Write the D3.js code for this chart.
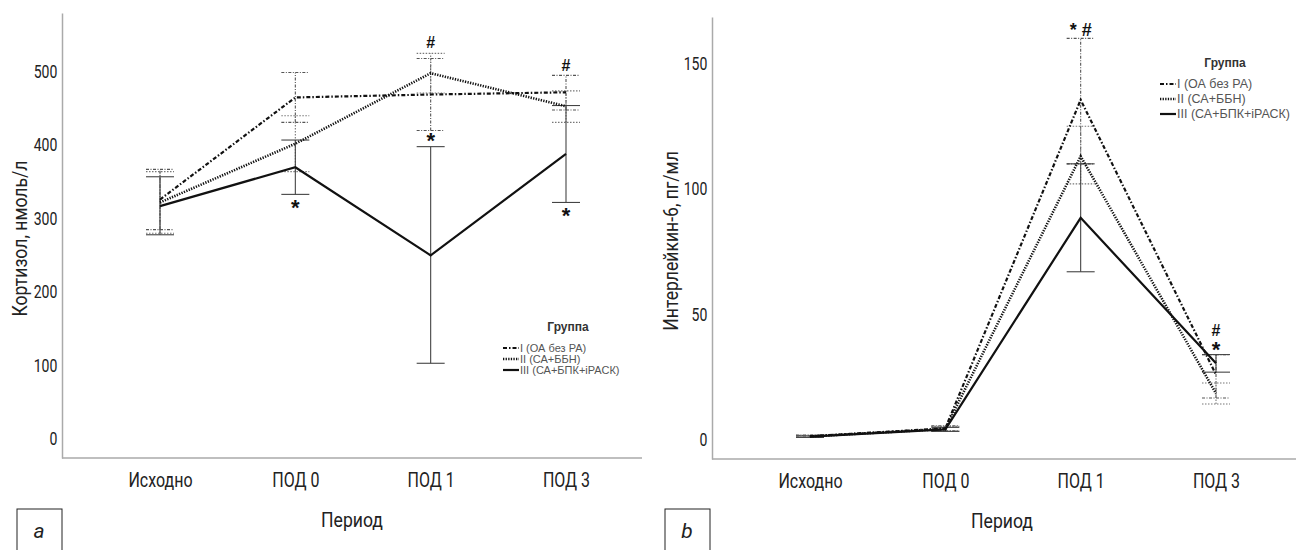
<!DOCTYPE html>
<html>
<head>
<meta charset="utf-8">
<script src="https://cdn.jsdelivr.net/npm/d3@7"></script>
<style>
  body { margin: 0; background: #fff; }
  svg { display: block; }
  .cond { font-family: Roboto, "Liberation Sans", sans-serif; }
  .leg { font-family: "Liberation Sans", Arial, sans-serif; }
</style>
</head>
<body>
<div id="wrapper"></div>
<script>
// Data
const periods = ['Исходно', 'ПОД 0', 'ПОД 1', 'ПОД 3']
const groups = ['I (ОА без РА)', 'II (СА+ББН)', 'III (СА+БПК+iРАСК)']

// panel a: cortisol, nmol/l (mean, lower CI, upper CI)
const cortisolMean = [
    [326, 465, 469, 472],
    [322, 402, 498, 453],
    [317, 370, 250, 388],
]
const cortisolLow = [
    [285, 431, 420, 448],
    [280, 364, 471, 431],
    [278, 333, 103, 322],
]
const cortisolHigh = [
    [367, 499, 518, 495],
    [364, 440, 525, 474],
    [357, 407, 398, 454],
]
const cortisolTicks = [0, 100, 200, 300, 400, 500]
const cortisolMarks = [
    { period: 'ПОД 0', value: 318, text: '*' },
    { period: 'ПОД 1', value: 540, text: '#' },
    { period: 'ПОД 1', value: 410, text: '*' },
    { period: 'ПОД 3', value: 509, text: '#' },
    { period: 'ПОД 3', value: 308, text: '*' },
]

// panel b: interleukin-6, pg/ml
const il6Mean = [
    [1.5, 4.6, 135.5, 26],
    [1.4, 4.4, 113, 18.5],
    [1.3, 4.2, 88.5, 30.5],
]
const il6Low = [
    [1.1, 3.6, 110, 16.7],
    [1.0, 3.5, 102, 14.3],
    [1.0, 3.4, 67, 27],
]
const il6High = [
    [1.9, 5.6, 160, 34],
    [1.8, 5.4, 125, 22.7],
    [1.6, 5.0, 110, 34],
]
const il6Ticks = [0, 50, 100, 150]
const il6Marks = [
    { period: 'ПОД 1', value: 163.5, text: '* #' },
    { period: 'ПОД 3', value: 43.5, text: '#' },
    { period: 'ПОД 3', value: 37, text: '*' },
]

const lineStyles = [
    { dash: '4,2,1.5,2', width: 2.2, barDash: '3,1.5,1,1.5', barColor: '#555' },
    { dash: '1.3,1.3', width: 2.6, barDash: '1.5,1.5', barColor: '#777' },
    { dash: null, width: 2.2, barDash: null, barColor: '#444' },
]

const svg = d3.select('#wrapper')
    .append('svg')
        .attr('width', 1296)
        .attr('height', 550)

function drawPanel(cfg) {
    const bounds = svg.append('g')
        .attr('transform', `translate(${cfg.left}, ${cfg.top})`)

    const xScale = d3.scalePoint()
        .domain(periods)
        .range([98, 504])

    const yScale = d3.scaleLinear()
        .domain(cfg.domain)
        .range([cfg.height, 0])

    // axes
    const yAxis = bounds.append('g')
        .call(d3.axisLeft(yScale).tickValues(cfg.ticks).tickSize(0).tickPadding(6).tickSizeOuter(0))
    yAxis.select('.domain').attr('stroke', '#aaa').attr('stroke-width', 1.5)
    yAxis.selectAll('text')
        .attr('class', 'cond')
        .attr('transform', 'scale(0.78,1)')
        .style('font-size', '18px')
        .attr('fill', '#222')

    const xAxis = bounds.append('g')
        .attr('transform', `translate(0, ${cfg.height})`)
        .call(d3.axisBottom(xScale).tickSize(0).tickPadding(15))
    xAxis.select('.domain').attr('d', `M0,0H${cfg.width}`).attr('stroke', '#aaa').attr('stroke-width', 1.5)
    xAxis.selectAll('text')
        .attr('class', 'cond')
        .attr('transform', 'scale(0.8,1)')
        .style('font-size', '20px')
        .attr('fill', '#222')

    // axis titles
    bounds.append('text')
        .attr('class', 'cond')
        .attr('transform', `translate(${cfg.titleX}, ${cfg.height / 2 + 3}) rotate(-90) scale(0.88,1)`)
        .attr('text-anchor', 'middle')
        .attr('dy', '0.35em')
        .style('font-size', '20px')
        .attr('fill', '#222')
        .text(cfg.yTitle)

    bounds.append('text')
        .attr('class', 'cond')
        .attr('transform', `translate(290, ${cfg.height + 69}) scale(0.88,1)`)
        .attr('text-anchor', 'middle')
        .style('font-size', '20px')
        .attr('fill', '#222')
        .text('Период')

    // error bars
    groups.forEach((g, gi) => {
        const st = lineStyles[gi]
        periods.forEach((p, pi) => {
            const x = xScale(p)
            const lo = yScale(cfg.low[gi][pi])
            const hi = yScale(cfg.high[gi][pi])
            const bar = bounds.append('g')
                .attr('stroke', st.barColor)
                .attr('stroke-width', 1.1)
                .attr('stroke-dasharray', st.barDash)
                .attr('fill', 'none')
            bar.append('line').attr('x1', x).attr('x2', x).attr('y1', lo).attr('y2', hi)
            bar.append('line').attr('x1', x - 14).attr('x2', x + 14).attr('y1', lo).attr('y2', lo)
            bar.append('line').attr('x1', x - 14).attr('x2', x + 14).attr('y1', hi).attr('y2', hi)
        })
    })

    // lines
    const lineGenerator = d3.line()
        .x((d, i) => xScale(periods[i]))
        .y(d => yScale(d))

    cfg.mean.forEach((series, gi) => {
        const st = lineStyles[gi]
        bounds.append('path')
            .attr('d', lineGenerator(series))
            .attr('fill', 'none')
            .attr('stroke', '#111')
            .attr('stroke-width', st.width)
            .attr('stroke-dasharray', st.dash)
    })

    // significance marks
    bounds.selectAll('.mark')
        .data(cfg.marks)
        .join('text')
            .attr('x', d => xScale(d.period))
            .attr('y', d => yScale(d.value))
            .attr('text-anchor', 'middle')
            .attr('dy', d => d.text === '*' ? '0.45em' : '0.35em')
            .style('font-family', '"Liberation Sans", Arial, sans-serif')
            .style('font-weight', 'bold')
            .style('font-size', d => d.text === '#' ? '16px' : d.text === '*' ? '22px' : '18px')
            .attr('fill', '#111')
            .text(d => d.text)

    // legend
    const legend = bounds.append('g')
        .attr('transform', `translate(${cfg.legendX}, ${cfg.legendY})`)
        .attr('class', 'leg')

    legend.append('text')
        .attr('x', 65)
        .attr('y', 0)
        .attr('dy', '0.35em')
        .attr('text-anchor', 'middle')
        .style('font-weight', 'bold')
        .style('font-size', '12px')
        .attr('fill', '#333')
        .text('Группа')

    groups.forEach((g, gi) => {
        const st = lineStyles[gi]
        const yy = 21 + cfg.legendGap * gi
        legend.append('line')
            .attr('x1', 0).attr('x2', 16)
            .attr('y1', yy).attr('y2', yy)
            .attr('stroke', '#111')
            .attr('stroke-width', st.width)
            .attr('stroke-dasharray', st.dash)
        legend.append('text')
            .attr('x', 17)
            .attr('y', yy)
            .attr('dy', '0.35em')
            .style('font-size', cfg.legendFont)
            .attr('fill', '#555')
            .text(g)
    })

    // panel letter
    svg.append('rect')
        .attr('x', cfg.boxX)
        .attr('y', 509)
        .attr('width', 45)
        .attr('height', 50)
        .attr('fill', 'none')
        .attr('stroke', '#222')
        .attr('stroke-width', 1)
    svg.append('text')
        .attr('class', 'cond')
        .attr('x', cfg.boxX + 22)
        .attr('y', 538)
        .attr('text-anchor', 'middle')
        .style('font-size', '21px')
        .style('font-style', 'italic')
        .attr('fill', '#222')
        .text(cfg.letter)
}

drawPanel({
    left: 62, top: 13, width: 580, height: 445,
    domain: [-26, 580],
    ticks: cortisolTicks,
    mean: cortisolMean, low: cortisolLow, high: cortisolHigh,
    marks: cortisolMarks,
    yTitle: 'Кортизол, нмоль/л',
    titleX: -42,
    legendX: 441, legendY: 314, legendGap: 11, legendFont: '11px',
    boxX: 17, letter: 'a',
})

drawPanel({
    left: 712, top: 17, width: 584, height: 442,
    domain: [-7.6, 168.5],
    ticks: il6Ticks,
    mean: il6Mean, low: il6Low, high: il6High,
    marks: il6Marks,
    yTitle: 'Интерлейкин-6, пг/мл',
    titleX: -41,
    legendX: 448, legendY: 46, legendGap: 15, legendFont: '12.5px',
    boxX: 665, letter: 'b',
})
</script>
</body>
</html>
